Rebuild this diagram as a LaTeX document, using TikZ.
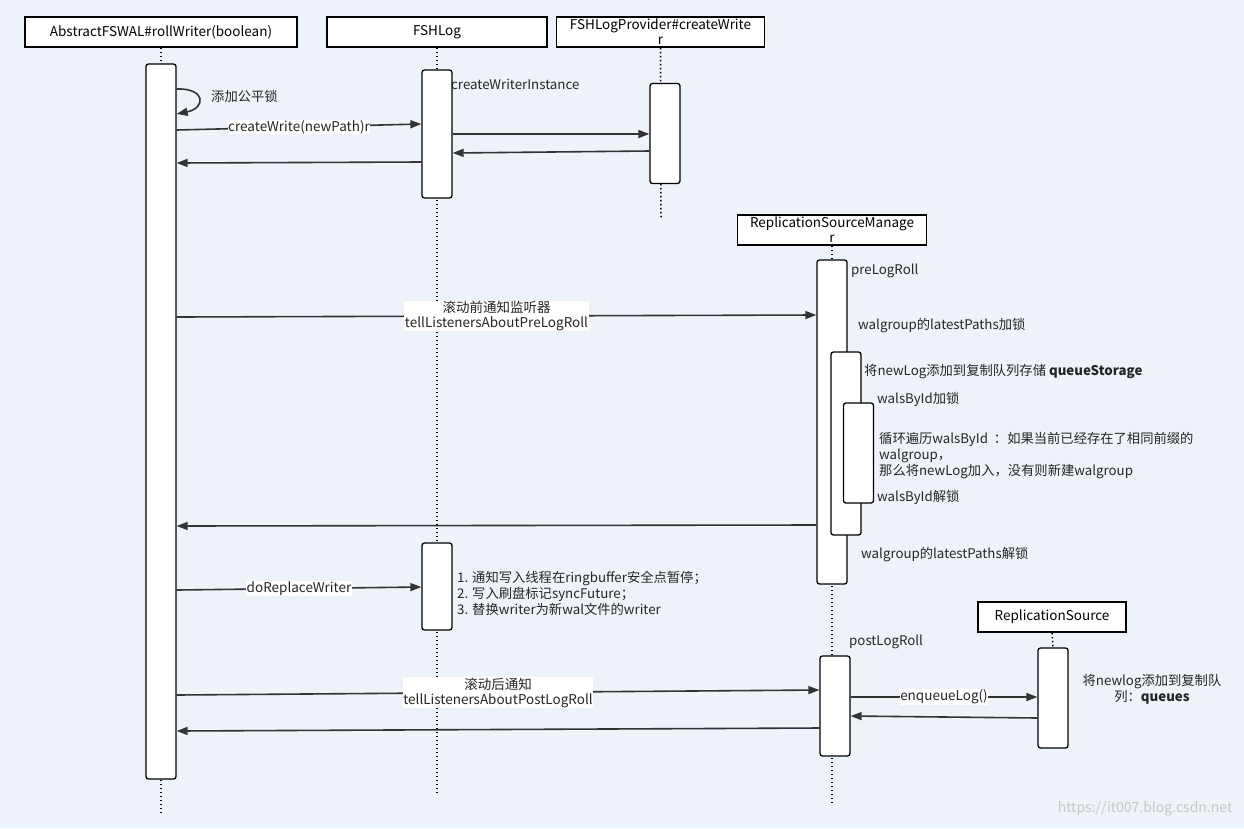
\documentclass[tikz,border=0pt]{standalone}
\usepackage{fontspec}
\setmainfont{Noto Sans CJK SC}
\usetikzlibrary{arrows.meta}
\definecolor{bgc}{HTML}{EEF2F9}
\definecolor{lnc}{HTML}{333333}
\tikzset{
  head/.style={draw=black, line width=1.6pt, fill=white, minimum height=30pt, inner sep=0pt, align=center, font=\fontsize{13.5}{15}\selectfont},
  act/.style={draw=black, line width=1.3pt, fill=white, rounded corners=2.5pt, minimum width=30pt, inner sep=0pt},
  life/.style={line width=1.5pt, dash pattern=on 1.5pt off 2.5pt},
  msg/.style={draw=lnc, line width=1.6pt, -{Triangle[length=11pt,width=8pt]}},
  lbl/.style={fill=white, inner sep=0.5pt, align=center, text=black!85, font=\fontsize{13.5}{15}\selectfont},
  note/.style={anchor=west, inner sep=0pt, align=left, text=black!85, font=\fontsize{13.3}{16}\selectfont},
}
\begin{document}
\begin{tikzpicture}[x=1pt,y=-1pt,font=\fontsize{13.3}{16}\selectfont]
\fill[bgc] (0,0) rectangle (1244,828);
\useasboundingbox (0,0) rectangle (1244,828);

% headers
\node[head, minimum width=272pt] (hA) at (161,32) {AbstractFSWAL\#rollWriter(boolean)};
\node[head, minimum width=220pt] (hF) at (437,32) {FSHLog};
\node[head, minimum width=208pt] (hP) at (660.5,32) {FSHLogProvider\#createWrite\\r};
\node[head, minimum width=189pt] (hR) at (832,230) {ReplicationSourceManage\\r};
\node[head, minimum width=148pt] (hS) at (1052,617) {ReplicationSource};

% lifelines
\coordinate (eA) at (161,815);
\coordinate (eF) at (437,795);
\coordinate (eP) at (661,218);
\coordinate (eR) at (832,802);
\draw[life] (hA.south) -- (eA);
\draw[life] (hF.south) -- (eF);
\draw[life] (hP.south) -- (eP);
\draw[life] (hR.south) -- (eR);

% activations
\node[act, minimum height=715pt] (aA) at (161,421.5) {};
\node[act, minimum height=128pt] (aF1) at (437,134) {};
\node[act, minimum height=87pt] (aF2) at (437,586.5) {};
\node[act, minimum height=100pt] (aP) at (665,133.5) {};
\node[act, minimum height=324pt] (aR1) at (832,422) {};
\node[act, minimum height=183pt] (aR2) at (846,443.5) {};
\node[act, minimum height=100pt] (aR3) at (858.5,453) {};
\node[act, minimum height=100pt] (aR4) at (835,706) {};
\node[act, minimum height=100pt] (aS) at (1053,698) {};
\draw[life] (hS.south) -- (aS.north);

% messages
\draw[msg] (aA.east |- 0,89) .. controls (206,88) and (206,108) .. (aA.east |- 0,114);
\node[note] (nLock) at (211,96) {添加公平锁};
\draw[msg] (aA.east |- 0,130) -- node[lbl] (lCW) {createWrite(newPath)r} (aF1.west |- 0,124);
\draw[msg] (aF1.east |- 0,134) -- (aP.west |- 0,134);
\draw[msg] (aP.west |- 0,151) -- (aF1.east |- 0,153);
\draw[msg] (aF1.west |- 0,162) -- (aA.east |- 0,163);
\node[note] (nCWI) at (451,84) {createWriterInstance};

\draw[msg] (aA.east |- 0,317) -- node[lbl] (lPre) {滚动前通知监听器\\tellListenersAboutPreLogRoll} (aR1.west |- 0,315);
\draw[msg] (aR1.west |- 0,525) -- (aA.east |- 0,526);
\draw[msg] (aA.east |- 0,590) -- node[lbl] (lRep) {doReplaceWriter} (aF2.west |- 0,587);
\draw[msg] (aA.east |- 0,695) -- node[lbl] (lPost) {滚动后通知\\tellListenersAboutPostLogRoll} (aR4.west |- 0,690);
\draw[msg] (aR4.west |- 0,728) -- (aA.east |- 0,731);
\draw[msg] (aR4.east |- 0,697) -- node[lbl] (lEnq) {enqueueLog()} (aS.west |- 0,697);
\draw[msg] (aS.west |- 0,718) -- (aR4.east |- 0,716);

% notes
\node[note] (n1) at (851,271) {preLogRoll};
\node[note] (n2) at (858,326) {walgroup的latestPaths加锁};
\node[note] (n3) at (864,372) {将newLog添加到复制队列存储 \textbf{queueStorage}};
\node[note] (n4) at (877,399) {walsById加锁};
\node[note] (n5) at (879,456) {循环遍历walsById~~：如果当前已经存在了相同前缀的\\walgroup，\\那么将newLog加入，没有则新建walgroup};
\node[note] (n6) at (877,497) {walsById解锁};
\node[note] (n7) at (861,555) {walgroup的latestPaths解锁};
\node[note] (n8) at (849,642) {postLogRoll};
\node[note] (n9) at (457,593) {1. 通知写入线程在ringbuffer安全点暂停；\\2. 写入刷盘标记syncFuture；\\3. 替换writer为新wal文件的writer};
\node[inner sep=0pt, align=center, text=black!85] (n10) at (1152,689.5) {将newlog添加到复制队\\列：\textbf{queues}};
\node[inner sep=0pt, text=black!22, font=\fontsize{14}{16}\selectfont] (wm) at (1145,809) {https://it007.blog.csdn.net};
\end{tikzpicture}
\end{document}
